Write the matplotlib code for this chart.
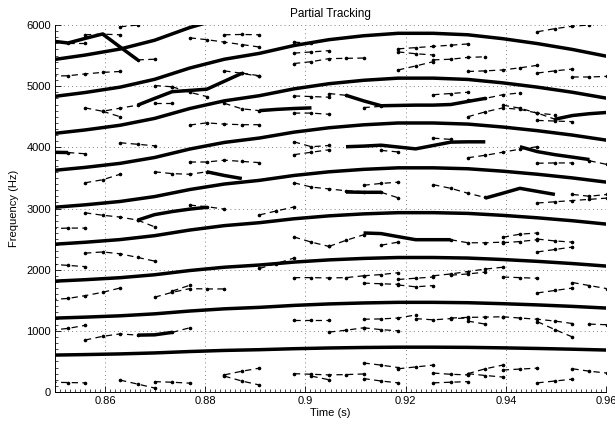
import numpy as np
import matplotlib
matplotlib.use("Agg")
import matplotlib.pyplot as plt
from matplotlib.ticker import MultipleLocator

plt.rcParams['font.family'] = ['Liberation Sans', 'DejaVu Sans']

# analysis frame times (s), hop ~3.5 ms
FRAME_T = [0.8491, 0.8526, 0.8560, 0.8595, 0.8630, 0.8665, 0.8699, 0.8734,
           0.8769, 0.8803, 0.8838, 0.8873, 0.8908, 0.8942, 0.8977, 0.9012,
           0.9047, 0.9081, 0.9116, 0.9151, 0.9185, 0.9220, 0.9255, 0.9290,
           0.9324, 0.9359, 0.9394, 0.9428, 0.9463, 0.9498, 0.9533, 0.9567,
           0.9602]

# harmonic partials, sampled every second frame (Hz)
H1 = [603, 612, 623, 639, 662, 680, 692, 708, 720, 728, 733, 733, 730, 722, 712, 700, 686]
H2 = [1206, 1224, 1246, 1278, 1324, 1360, 1384, 1416, 1440, 1456, 1466, 1466, 1460, 1444, 1424, 1400, 1372]
H3 = [1809, 1836, 1869, 1917, 1986, 2040, 2076, 2124, 2160, 2184, 2199, 2199, 2190, 2166, 2136, 2100, 2058]
H4 = [2412, 2448, 2492, 2556, 2648, 2720, 2768, 2832, 2880, 2912, 2932, 2932, 2920, 2888, 2848, 2800, 2744]
H5 = [3015, 3060, 3115, 3195, 3310, 3400, 3460, 3540, 3600, 3640, 3665, 3665, 3650, 3610, 3560, 3500, 3430]
H6 = [3618, 3672, 3738, 3834, 3972, 4080, 4152, 4248, 4320, 4368, 4398, 4398, 4380, 4332, 4272, 4200, 4116]
H7 = [4221, 4284, 4361, 4473, 4634, 4760, 4844, 4956, 5040, 5096, 5131, 5131, 5110, 5054, 4984, 4900, 4802]
H8 = [4824, 4896, 4984, 5112, 5296, 5440, 5536, 5664, 5760, 5824, 5864, 5864, 5840, 5776, 5696, 5600, 5488]
H9 = [5427, 5508, 5607, 5751, 5958, 6120]
HARMONICS = [H1, H2, H3, H4, H5, H6, H7, H8, H9]

# short continued tracks: (first frame, frequencies)
SOLID_TRACKS = [
    (0, [5740, 5706, 5780, 5853, 5640, 5430]),
    (5, [4690, 4800, 4910, 4930, 4950, 5080, 5210]),
    (0, [3920, 3915]),
    (9, [3600, 3540, 3490]),
    (5, [2810, 2900, 2950, 2990, 3020]),
    (5, [930, 935, 975]),
    (12, [4600, 4620, 4635, 4645]),
    (17, [4850, 4760, 4680, 4685, 4690, 4690, 4700, 4750, 4800]),
    (29, [4460, 4520, 4550, 4570]),
    (17, [4010, 4020, 4035, 4005, 3975, 4030, 4085, 4090, 4090]),
    (27, [4010, 3930, 3880, 3840, 3800]),
    (17, [3270, 3265, 3265]),
    (25, [3170, 3250, 3330, 3280, 3230]),
    (18, [2600, 2590, 2540, 2490, 2490, 2490]),
]

# short-lived peak links: (first frame, frequencies)
DASHED_TRACKS = [
    (5, [5430, 5440]), (4, [5970, 6000]), (2, [5840, 5850, 5840]),
    (1, [5706, 5706]), (0, [5165, 5170, 5200, 5225, 5240]),
    (6, [5010, 4990]), (7, [4990, 4900, 4830]),
    (2, [4645, 4590, 4640, 4690]), (11, [5215, 5170]), (6, [4720, 4720]),
    (3, [4590, 4500]), (8, [4365, 4400, 4380, 4370, 4370]),
    (4, [4075, 4050, 4025]), (1, [3915, 3895]),
    (8, [3760, 3760, 3790, 3770, 3750]), (6, [3600, 3570, 3560, 3600]),
    (2, [3420, 3470, 3560]), (8, [5790, 5760, 5720, 5680, 5640]),
    (10, [5840, 5845, 5840]), (10, [5250, 5210, 5160]),
    (10, [4720, 4630, 4600]), (14, [4840, 4830, 4820]),
    (14, [4560, 4560, 4540]), (14, [4090, 4010, 4030]),
    (14, [3880, 3920, 3960]), (14, [3420, 3350, 3320, 3290, 3275]),
    (14, [5370, 5400, 5450, 5455, 5460]), (14, [5540, 5560, 5580]),
    (14, [5720, 5700]), (20, [5610, 5630, 5650, 5670, 5690]),
    (20, [5560, 5530, 5510]), (22, [5430, 5440, 5470, 5480]),
    (24, [5240, 5250, 5265, 5300, 5340]), (28, [5215, 5250, 5280]),
    (30, [5150, 5150, 5160]), (28, [5890, 5940, 5980, 6000]),
    (20, [5265, 5330, 5400]), (16, [4880, 4850]),
    (22, [4860, 4880, 4900]), (24, [4500, 4580, 4645, 4620, 4560, 4460]),
    (24, [4770, 4800, 4860, 4890]), (26, [4690, 4640, 4560, 4530]),
    (28, [4440, 4430, 4420]), (18, [4650, 4670]), (19, [3950, 3925]),
    (22, [4150, 4130]), (24, [3830, 3870, 3920, 3970, 4010]),
    (28, [3740, 3745, 3745]), (31, [3780, 3720]),
    (18, [3380, 3410, 3430]), (19, [3265, 3175]),
    (22, [3390, 3330, 3250, 3180]), (28, [3090, 3110, 3130, 3150, 3170]),
    (30, [3230, 3200, 3230]),
    (2, [2930, 2890, 2860, 2810]), (5, [2810, 2700]),
    (0, [2670, 2680, 2680]), (8, [3055, 3030, 2990]),
    (12, [2895, 2960, 3025]), (2, [2270, 2290, 2260, 2200, 2140]),
    (0, [2090, 2070, 2050]), (12, [2020, 2100, 2190]),
    (0, [1510, 1530, 1575, 1630, 1700]), (6, [1550, 1630, 1690, 1685, 1685]),
    (7, [1650, 1745]), (0, [1010, 1040, 1090]),
    (2, [850, 910, 950, 930]), (7, [975, 1050]),
    (10, [280, 340, 390]), (10, [260, 180, 115]),
    (0, [160, 155, 150]), (4, [195, 130, 65]), (6, [170, 160, 145]),
    (14, [300, 290, 280, 285, 295]),
    (14, [2535, 2450, 2380]), (16, [2380, 2480, 2570]), (19, [2400, 2450]),
    (23, [2490, 2440, 2440, 2450]), (26, [2530, 2580, 2600]),
    (26, [2440, 2460, 2490]), (28, [2500, 2470, 2450]),
    (28, [2290, 2330, 2370]),
    (14, [1870, 1870, 1865, 1870, 1900]), (18, [1900, 1920, 1950]),
    (18, [1780, 1770, 1760]), (20, [1840, 1860, 1880]),
    (20, [1750, 1720, 1740]), (22, [1900, 1930, 1970, 2010, 2040]),
    (23, [1910, 1930, 1960]), (26, [1880, 1870, 1860]),
    (28, [1620, 1660, 1700]), (30, [1790, 1740, 1690]),
    (14, [1180, 1180, 1180]), (16, [980, 1010, 1050]),
    (18, [1190, 1195, 1210, 1260]), (18, [1050, 1020, 1000]),
    (21, [1200, 1180, 1200, 1210]), (23, [1210, 1220, 1225, 1230]),
    (24, [1160, 1110]), (26, [1230, 1210, 1190, 1160, 1120]),
    (28, [1150, 1020, 900]), (31, [1110, 1100]),
    (18, [475, 440, 400]), (18, [220, 180, 150]), (20, [380, 410, 440]),
    (22, [310, 290, 280]), (22, [150, 160, 170]), (24, [300, 380, 440]),
    (24, [300, 270, 245]), (26, [360, 375, 390]), (28, [150, 180, 210]),
    (30, [380, 340, 310]), (15, [260, 200]),
]

fig = plt.figure(figsize=(6.15, 4.25), dpi=100, facecolor="white")
ax = fig.add_axes([0.0894, 0.0776, 0.896, 0.8636])

t_even = FRAME_T[::2]
for h in HARMONICS:
    ax.plot(t_even[:len(h)], h, color="black", lw=2.5, solid_capstyle="butt", zorder=3)

for k0, freqs in SOLID_TRACKS:
    ax.plot(FRAME_T[k0:k0 + len(freqs)], freqs, color="black", lw=2.5,
            solid_capstyle="butt", zorder=3)

for k0, freqs in DASHED_TRACKS:
    ax.plot(FRAME_T[k0:k0 + len(freqs)], freqs, color="black", lw=0.9,
            ls=(0, (5, 3.5)), marker=".", ms=3.2, zorder=2)

ax.set_xlim(0.85, 0.96)
ax.set_ylim(0, 6000)
ax.set_xticks([0.86, 0.88, 0.90, 0.92, 0.94, 0.96])
ax.set_xticklabels(["0.86", "0.88", "0.9", "0.92", "0.94", "0.96"])
ax.set_yticks(range(0, 6001, 1000))
ax.xaxis.set_minor_locator(MultipleLocator(0.001))
ax.yaxis.set_minor_locator(MultipleLocator(100))
ax.tick_params(which="major", direction="in", length=4, width=0.6,
               labelsize=8, pad=3, top=False, right=False)
ax.tick_params(which="minor", direction="in", length=2, width=0.5,
               top=False, right=False)

ax.grid(True, which="major", color="0.35", lw=0.6, ls=(0, (1, 4)))
for s in ["top", "right"]:
    ax.spines[s].set_visible(False)
for s in ["left", "bottom"]:
    ax.spines[s].set_linewidth(0.7)

ax.set_title("Partial Tracking", fontsize=8.5, pad=6)
ax.set_xlabel("Time (s)", fontsize=8, labelpad=1)
ax.set_ylabel("Frequency (Hz)", fontsize=8, labelpad=5)

fig.savefig("out.png", dpi=100, facecolor="white")
